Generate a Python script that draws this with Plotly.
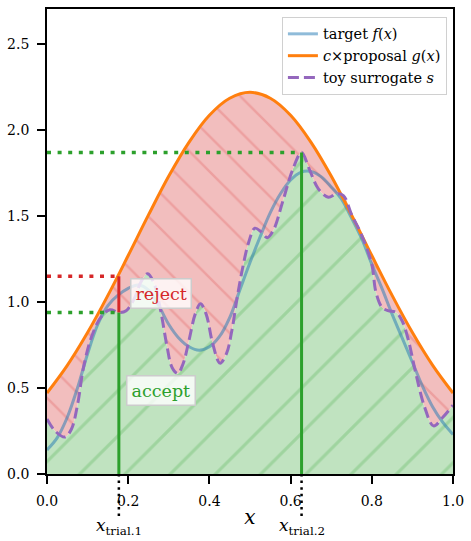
import plotly.graph_objects as go

# ---- data -------------------------------------------------------------
# target density f(x)
f_x = [0.0, 0.025, 0.05, 0.075, 0.10, 0.125, 0.15, 0.175, 0.20, 0.225, 0.25, 0.275,
       0.30, 0.325, 0.35, 0.375, 0.40, 0.425, 0.45, 0.475, 0.50, 0.525, 0.55, 0.575,
       0.60, 0.625, 0.65, 0.675, 0.70, 0.725, 0.75, 0.775, 0.80, 0.825, 0.85, 0.875,
       0.90, 0.925, 0.95, 0.975, 1.0]
f_y = [0.14, 0.21, 0.33, 0.50, 0.70, 0.87, 0.98, 1.04, 1.08, 1.10, 1.07, 0.98,
       0.87, 0.79, 0.74, 0.72, 0.74, 0.80, 0.91, 1.07, 1.23, 1.38, 1.52, 1.63,
       1.71, 1.755, 1.76, 1.73, 1.67, 1.60, 1.49, 1.37, 1.22, 1.08, 0.93, 0.79,
       0.65, 0.51, 0.39, 0.30, 0.23]

# scaled proposal c*g(x)
g_x = [0.0, 0.05, 0.10, 0.15, 0.20, 0.25, 0.30, 0.35, 0.40, 0.45, 0.50,
       0.55, 0.60, 0.65, 0.70, 0.75, 0.80, 0.85, 0.90, 0.95, 1.0]
g_y = [0.471, 0.632, 0.823, 1.039, 1.271, 1.507, 1.733, 1.931, 2.087, 2.186, 2.22,
       2.186, 2.087, 1.931, 1.733, 1.507, 1.271, 1.039, 0.823, 0.632, 0.471]

# toy surrogate s(x)
s_x = [0.0, 0.02, 0.044, 0.06, 0.075, 0.09, 0.11, 0.135, 0.155, 0.177, 0.195, 0.215,
       0.232, 0.248, 0.265, 0.28, 0.295, 0.308, 0.322, 0.335, 0.35, 0.365, 0.378,
       0.392, 0.408, 0.426, 0.442, 0.455, 0.468, 0.482, 0.497, 0.512, 0.527, 0.542,
       0.558, 0.58, 0.605, 0.627, 0.645, 0.668, 0.693, 0.713, 0.73, 0.75, 0.775,
       0.80, 0.81, 0.825, 0.84, 0.86, 0.875, 0.89, 0.907, 0.93, 0.952, 0.975, 1.0]
s_y = [0.32, 0.25, 0.215, 0.26, 0.40, 0.62, 0.80, 0.92, 0.955, 0.94, 0.95, 1.02,
       1.12, 1.165, 1.10, 0.95, 0.75, 0.62, 0.585, 0.64, 0.78, 0.93, 0.99,
       0.93, 0.76, 0.645, 0.70, 0.83, 1.02, 1.20, 1.35, 1.43, 1.41, 1.375,
       1.42, 1.58, 1.77, 1.87, 1.78, 1.66, 1.61, 1.63, 1.62, 1.51, 1.39,
       1.22, 1.06, 0.97, 0.95, 0.94, 0.89, 0.78, 0.60, 0.39, 0.28, 0.33, 0.40]

# two trial draws
x_trial = [0.177, 0.627]
s_trial = [0.94, 1.87]        # surrogate value at each trial
u_cg_trial1 = 1.15            # rejected height of trial 1
trial_labels = ["<i>x</i><sub>trial.1</sub>", "<i>x</i><sub>trial.2</sub>"]

x_range = [0.0, 1.0]
y_range = [0.0, 2.705]
x_ticks = [0.0, 0.2, 0.4, 0.6, 0.8, 1.0]
y_ticks = [0.0, 0.5, 1.0, 1.5, 2.0, 2.5]

# ---- styling ----------------------------------------------------------
FONT = "DejaVu Serif"
BLUE = "rgba(31,119,180,0.5)"
ORANGE = "#ff7f0e"
PURPLE = "#9467bd"
GREEN = "#2ca02c"
RED = "#d62728"
SMOOTH = 1.0

fig = go.Figure()

# accept region: under the surrogate
fig.add_trace(go.Scatter(
    x=s_x, y=s_y, mode="lines",
    line=dict(width=0, shape="spline", smoothing=SMOOTH),
    fill="tozeroy", fillcolor="rgb(192,227,192)",
    fillpattern=dict(shape="/", bgcolor="rgb(192,227,192)",
                     fgcolor="rgba(44,160,44,0.45)", size=32, solidity=0.1),
    showlegend=False, hoverinfo="skip"))

# reject region: between surrogate and c*g
fig.add_trace(go.Scatter(
    x=g_x, y=g_y, mode="lines",
    line=dict(width=0, shape="spline", smoothing=SMOOTH),
    fill="tonexty", fillcolor="rgb(242,190,190)",
    fillpattern=dict(shape="\\", bgcolor="rgb(242,190,190)",
                     fgcolor="rgba(214,39,40,0.4)", size=25, solidity=0.1),
    showlegend=False, hoverinfo="skip"))

fig.add_trace(go.Scatter(
    x=f_x, y=f_y, mode="lines", name="target <i>f</i>(<i>x</i>)",
    line=dict(color=BLUE, width=3, shape="spline", smoothing=SMOOTH)))
fig.add_trace(go.Scatter(
    x=g_x, y=g_y, mode="lines", name="<i>c</i>×proposal <i>g</i>(<i>x</i>)",
    line=dict(color=ORANGE, width=3, shape="spline", smoothing=SMOOTH)))
fig.add_trace(go.Scatter(
    x=s_x, y=s_y, mode="lines", name="toy surrogate <i>s</i>",
    line=dict(color=PURPLE, width=3, dash="11px,5px", shape="spline", smoothing=SMOOTH)))

# trial markers: vertical segments
fig.add_trace(go.Scatter(x=[x_trial[0], x_trial[0]], y=[0, s_trial[0]], mode="lines",
                         line=dict(color=GREEN, width=3), showlegend=False, hoverinfo="skip"))
fig.add_trace(go.Scatter(x=[x_trial[0], x_trial[0]], y=[s_trial[0], u_cg_trial1], mode="lines",
                         line=dict(color=RED, width=3), showlegend=False, hoverinfo="skip"))
fig.add_trace(go.Scatter(x=[x_trial[1], x_trial[1]], y=[0, s_trial[1]], mode="lines",
                         line=dict(color=GREEN, width=3), showlegend=False, hoverinfo="skip"))

# dotted guides to the y axis
DOT = "4px,6.6px"
fig.add_trace(go.Scatter(x=[x_range[0], x_trial[0]], y=[u_cg_trial1, u_cg_trial1], mode="lines",
                         line=dict(color=RED, width=3.5, dash=DOT), showlegend=False, hoverinfo="skip"))
fig.add_trace(go.Scatter(x=[x_range[0], x_trial[0]], y=[s_trial[0], s_trial[0]], mode="lines",
                         line=dict(color=GREEN, width=3.5, dash=DOT), showlegend=False, hoverinfo="skip"))
fig.add_trace(go.Scatter(x=[x_range[0], x_trial[1]], y=[s_trial[1], s_trial[1]], mode="lines",
                         line=dict(color=GREEN, width=3.5, dash=DOT), showlegend=False, hoverinfo="skip"))

# dotted drop lines below the axis and trial labels
for xt, lab in zip(x_trial, trial_labels):
    xp = (xt - x_range[0]) / (x_range[1] - x_range[0])
    fig.add_shape(type="line", xref="paper", yref="paper", x0=xp, x1=xp, y0=0, y1=-0.092,
                  line=dict(color="black", width=2.5, dash="2.5px,4.1px"), layer="above")
    fig.add_annotation(x=xt, y=-0.113, xref="x", yref="paper", text=lab, showarrow=False,
                       xanchor="center", yanchor="middle",
                       font=dict(family=FONT, size=17, color="black"))

# region labels
box = dict(showarrow=False, bgcolor="rgba(255,255,255,0.8)", bordercolor="#cccccc",
           borderwidth=1.5, borderpad=4)
fig.add_annotation(x=0.281, y=1.05, text="reject", font=dict(family=FONT, size=17.5, color=RED), **box)
fig.add_annotation(x=0.281, y=0.487, text="accept", font=dict(family=FONT, size=17.5, color=GREEN), **box)

axis_common = dict(showgrid=False, zeroline=False, showline=True, mirror=True,
                   linecolor="black", linewidth=1.8, ticks="outside", ticklen=8,
                   tickwidth=1.5, tickcolor="black",
                   tickfont=dict(family=FONT, size=14, color="black"))

fig.update_layout(
    width=471, height=541,
    margin=dict(l=47, r=13, t=7, b=67),
    paper_bgcolor="white", plot_bgcolor="white",
    font=dict(family=FONT, color="black"),
    xaxis=dict(range=x_range, tickvals=x_ticks, tickformat=".1f",
               title=dict(text="<i>x</i>", font=dict(family=FONT, size=20), standoff=2),
               ticklabelstandoff=5, **axis_common),
    yaxis=dict(range=y_range, tickvals=y_ticks, tickformat=".1f",
               ticklabelstandoff=5, **axis_common),
    legend=dict(x=0.985, y=0.983, xanchor="right", yanchor="top", traceorder="normal",
                bgcolor="rgba(255,255,255,0.85)", bordercolor="#d0d0d0", borderwidth=1,
                font=dict(family=FONT, size=14.5, color="black"), tracegroupgap=0),
    showlegend=True,
)

fig.write_html("out.html")
